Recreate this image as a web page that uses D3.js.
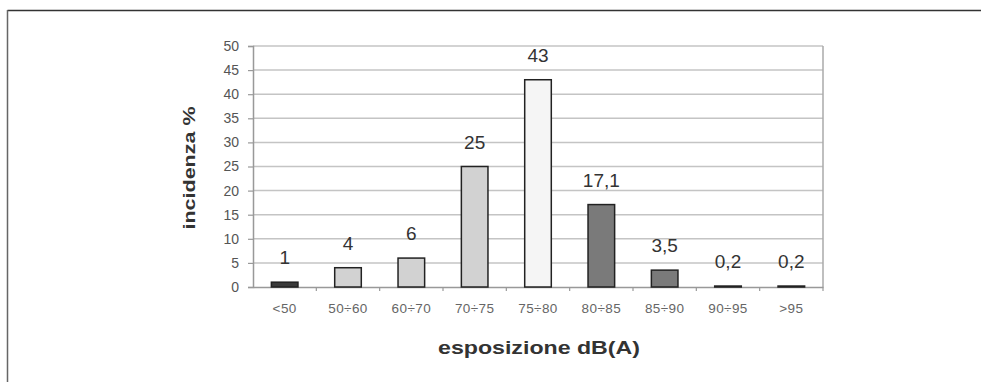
<!DOCTYPE html>
<html><head><meta charset="utf-8">
<script src="https://cdn.jsdelivr.net/npm/d3@7"></script>
<style>body{margin:0;background:#fff}svg{display:block}</style>
</head><body>
<svg id="c" width="981" height="382"></svg>
<script>
const categories = ["<50","50÷60","60÷70","70÷75","75÷80","80÷85","85÷90","90÷95",">95"];
const values = [1,4,6,25,43,17.1,3.5,0.2,0.2];
const valueLabels = ["1","4","6","25","43","17,1","3,5","0,2","0,2"];
const barColors = ["#3a3a3a","#d2d2d2","#d2d2d2","#d2d2d2","#f5f5f5","#7a7a7a","#7a7a7a","#7a7a7a","#7a7a7a"];
const yTicks = [0,5,10,15,20,25,30,35,40,45,50];
const yTitle = "incidenza %";
const xTitle = "esposizione dB(A)";

const FONT = "Liberation Sans, Arial, sans-serif";
const svg = d3.select("#c");
// outer frame (top and left edges)
svg.append("line").attr("x1",7.5).attr("x2",981).attr("y1",10.5).attr("y2",10.5).attr("stroke","#333").attr("stroke-width",1.5);
svg.append("line").attr("x1",7.5).attr("x2",7.5).attr("y1",10).attr("y2",382).attr("stroke","#666").attr("stroke-width",1.5);

const L=253, R=823, T=46, B=287;
const x = d3.scaleBand().domain(categories).range([L,R]).paddingInner(0.58).paddingOuter(0.29);
const xb = d3.scaleBand().domain(categories).range([L,R]);
const y = d3.scaleLinear().domain([0,50]).range([B,T]);

// gridlines
svg.append("g").selectAll("line").data(yTicks.filter(d=>d>0)).join("line")
  .attr("x1",L).attr("x2",R).attr("y1",d=>y(d)).attr("y2",d=>y(d))
  .attr("stroke","#c4c4c4").attr("stroke-width",1.5);
// right border
svg.append("line").attr("x1",R).attr("x2",R).attr("y1",T).attr("y2",B).attr("stroke","#aaa").attr("stroke-width",1.5);

// y axis
const ya = svg.append("g").attr("transform",`translate(${L},0)`)
  .call(d3.axisLeft(y).tickValues(yTicks).tickSize(5).tickPadding(9));
ya.select(".domain").attr("stroke","#999").attr("stroke-width",1.5);
ya.selectAll(".tick line").attr("stroke","#999").attr("stroke-width",1.2);
ya.selectAll("text").attr("font-family",FONT).attr("font-size",14).attr("fill","#555");

// x axis
const xa = svg.append("g").attr("transform",`translate(0,${B})`)
  .call(d3.axisBottom(xb).tickSize(0).tickPadding(16));
xa.select(".domain").attr("stroke","#999").attr("stroke-width",1.5);
xa.selectAll("text").attr("font-family",FONT).attr("font-size",13.5).attr("letter-spacing",0.4).attr("fill","#666");
svg.append("g").selectAll("line").data(categories).join("line")
  .attr("x1",d=>xb(d)+xb.bandwidth()).attr("x2",d=>xb(d)+xb.bandwidth())
  .attr("y1",B).attr("y2",B+4).attr("stroke","#999").attr("stroke-width",1.2);

// bars
svg.append("g").selectAll("rect").data(values).join("rect")
  .attr("x",(d,i)=>x(categories[i])).attr("width",x.bandwidth())
  .attr("y",d=>y(d)).attr("height",d=>B-y(d))
  .attr("fill",(d,i)=>barColors[i]).attr("stroke","#222").attr("stroke-width",1.5);

// value labels
svg.append("g").selectAll("text").data(values).join("text")
  .attr("x",(d,i)=>xb(categories[i])+xb.bandwidth()/2).attr("y",d=>y(d)-18)
  .attr("text-anchor","middle").attr("font-family",FONT)
  .attr("font-size",19).attr("fill","#333").text((d,i)=>valueLabels[i]);

// titles
svg.append("text").attr("transform","translate(195,168) rotate(-90)").attr("text-anchor","middle")
  .attr("font-family",FONT).attr("font-weight","bold").attr("font-size",17)
  .attr("textLength",123).attr("lengthAdjust","spacingAndGlyphs").attr("fill","#333").text(yTitle);
svg.append("text").attr("x",539).attr("y",354).attr("text-anchor","middle")
  .attr("font-family",FONT).attr("font-weight","bold").attr("font-size",19)
  .attr("textLength",202).attr("lengthAdjust","spacingAndGlyphs").attr("fill","#333").text(xTitle);
</script>
</body></html>
